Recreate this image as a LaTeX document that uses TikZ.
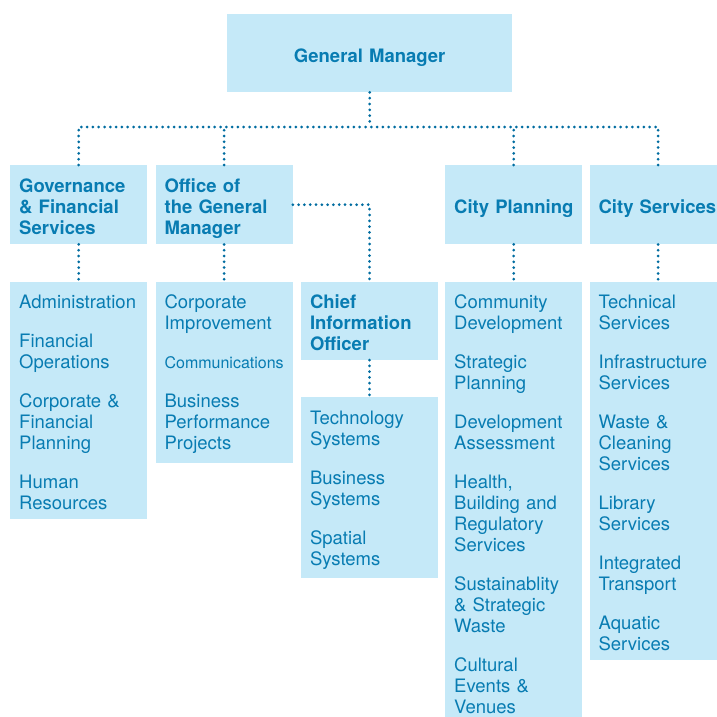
\documentclass[tikz,border=0pt]{standalone}
\usepackage{fontspec}
\setmainfont{TeX Gyre Heros}
\usetikzlibrary{positioning}

\definecolor{boxblue}{RGB}{197,233,248}
\definecolor{inkblue}{RGB}{8,124,178}
\definecolor{dotblue}{RGB}{0,108,160}

\begin{document}
\begin{tikzpicture}[
    x=1pt, y=-1pt, % pixel units, y grows downwards
    every node/.style={font={\fontsize{18.5}{21}\selectfont}, text=inkblue}, % plain text of all boxes
    bold/.style={font={\fontsize{18.5}{21}\selectfont\bfseries}},
    box/.style={rectangle, fill=boxblue, inner xsep=9pt, text width=119pt, align=left, text height=18pt},
    head/.style={box, bold, inner ysep=7.5pt, minimum height=79pt}, % second row of boxes
    oneline/.style={text depth=0pt}, % ignore descenders, so the line sits in the middle
    list/.style={box, inner ysep=9pt}, % boxes with the units
    link/.style={draw=dotblue, line width=3pt, line cap=round, dash pattern=on 0pt off 5.8pt},
  ]

  \useasboundingbox (0,0) rectangle (716,717);

  \node[head, oneline, text width=267pt, align=center, minimum height=78pt, anchor=north west] (gm) at (227,14) {General Manager};

  \node[head, anchor=north west] (gov) at (10,165) {Governance\\\& Financial\\Services};
  \node[head, text depth=42pt, right=8pt of gov] (ogm) {Office of\\the General\\Manager};
  \node[head, oneline, anchor=north west] (plan) at (445,165) {\mbox{City Planning}};
  \node[head, oneline, right=7pt of plan] (serv) {\mbox{City Services}};

  \node[list, below=37pt of gov] (govlist) {Administration\\[18pt]Financial\\Operations\\[18pt]Corporate \&\\Financial\\Planning\\[18pt]Human\\Resources};
  \node[list, below=37pt of ogm] (ogmlist) {Corporate\\Improvement\\[18pt]{\fontsize{16}{21}\selectfont Communications}\\[18pt]Business\\Performance\\Projects};
  \node[list, bold, anchor=north west] (cio) at ([xshift=8pt]ogmlist.north east) {Chief\\Information\\Officer};
  \node[list, below=37pt of cio] (tech) {Technology\\Systems\\[18pt]Business\\Systems\\[18pt]Spatial\\Systems};
  \node[list, below=37pt of plan] (planlist) {Community\\Development\\[18pt]Strategic\\Planning\\[18pt]Development\\Assessment\\[18pt]Health,\\Building and\\Regulatory\\Services\\[18pt]Sustainablity\\\& Strategic\\Waste\\[18pt]Cultural\\Events \&\\Venues};
  \node[list, below=37pt of serv] (servlist) {Technical\\Services\\[18pt]Infrastructure\\Services\\[18pt]Waste \&\\Cleaning\\Services\\[18pt]Library\\Services\\[18pt]Integrated\\Transport\\[18pt]Aquatic\\Services};

  \coordinate (bus) at (0,127);

  \draw[link] (gm) -- (gm |- bus);
  \draw[link] (gov.north) |- (bus -| serv.north) -- (serv.north);
  \draw[link] (ogm.north) -- (ogm.north |- bus);
  \draw[link] (plan.north) -- (plan.north |- bus);
  \draw[link] (gov) -- (govlist);
  \draw[link] (ogm) -- (ogmlist);
  \draw[link] (plan) -- (planlist);
  \draw[link] (serv) -- (servlist);
  \draw[link] (ogm.east) -| (cio.north);
  \draw[link] (cio) -- (tech);

\end{tikzpicture}
\end{document}
